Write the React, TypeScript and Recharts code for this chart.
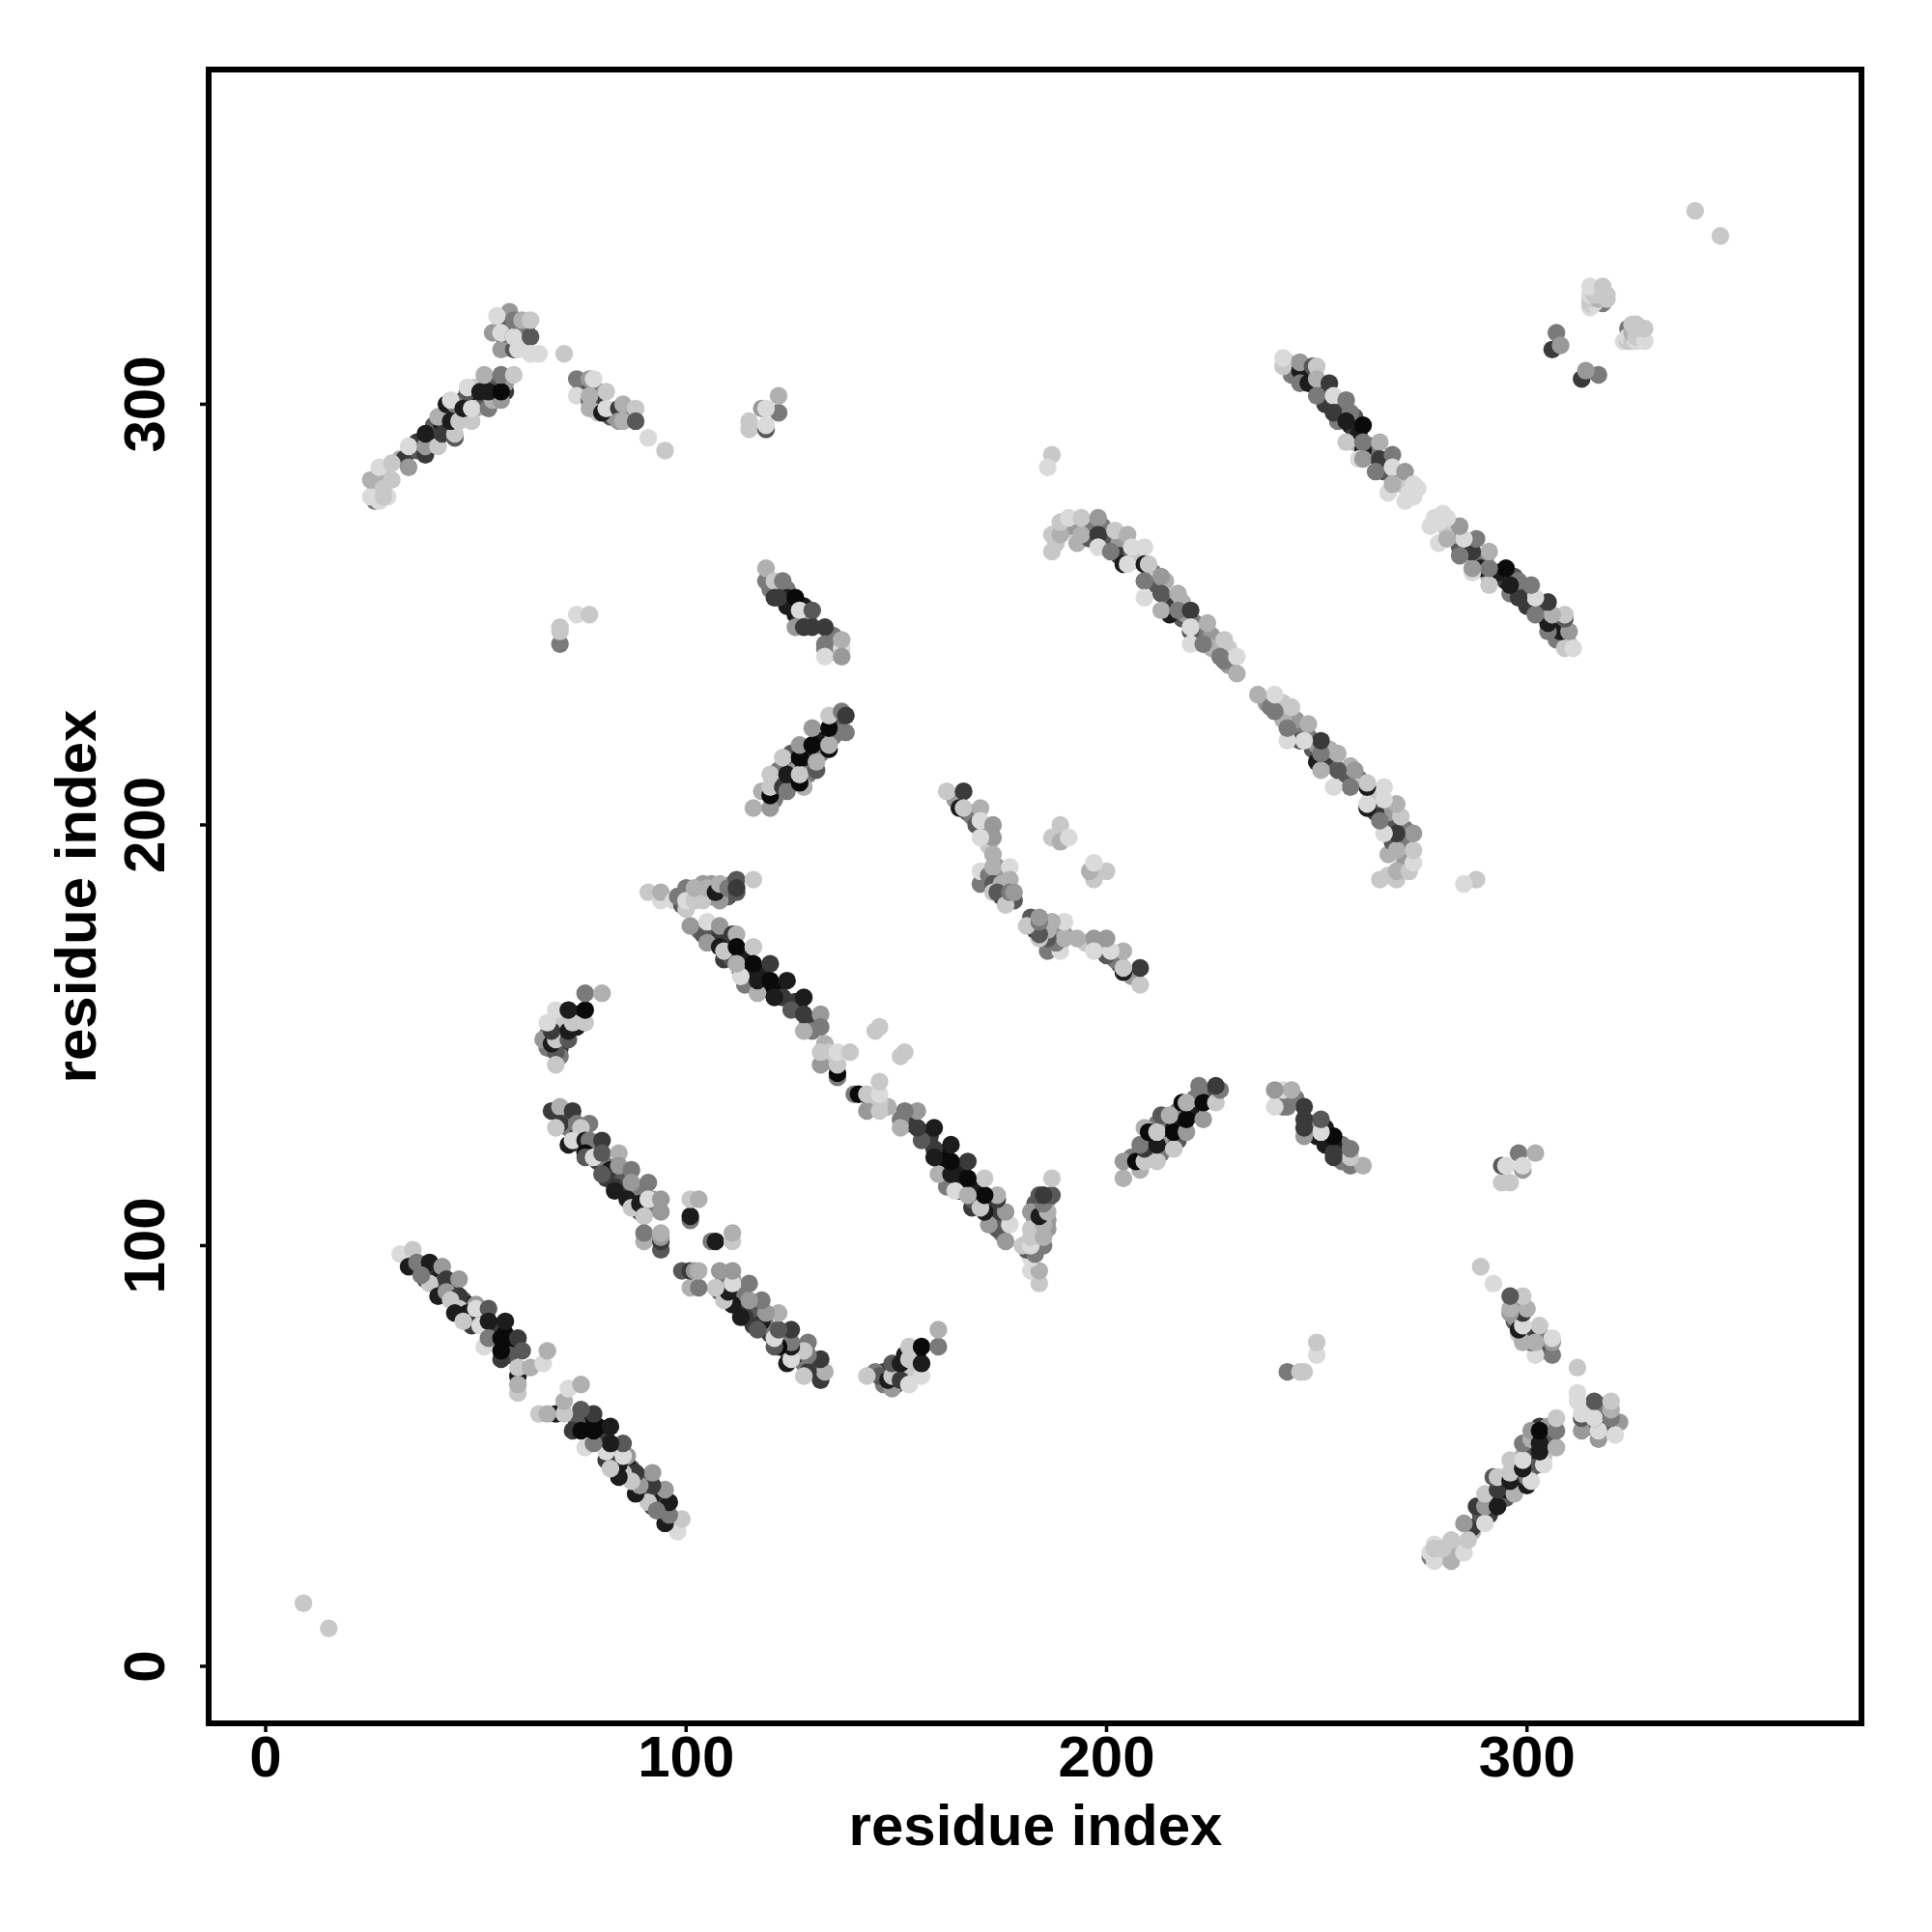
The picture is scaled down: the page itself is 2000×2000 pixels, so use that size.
import * as React from 'react';
import {Label, ReferenceArea, Scatter, ScatterChart, XAxis, YAxis} from 'recharts';

// residue i, residue j, contact score (1 faint .. 9 strong), upper triangle only
const bandA = [
  [37,94,6],[38,94,8],[40,93,7],[41,92,8],[42,91,6],[44,90,8],[45,89,7],[47,87,6],[48,86,8],[49,85,7],[51,84,8],[52,83,7],[54,81,8],[55,80,8],[56,80,7],[57,79,9],[58,77,8],[59,76,9],[58,74,6],
  [32,98,1],[35,99,2],[34,95,8],[36,96,5],[39,96,8],[42,95,4],[38,92,7],[39,91,2],[37,93,5],[43,92,7],[46,92,4],
  [41,88,8],[43,89,4],[46,88,7],[44,87,2],[46,85,2],[45,84,8],[50,86,4],[48,84,8],[50,85,1],[53,85,6],
  [49,81,7],[51,81,1],[47,82,2],[53,82,8],[57,82,8],[52,76,1],[53,78,5],[56,78,9],[60,78,7],[56,73,7],[56,75,9],[61,75,6],
  [60,69,8],[60,71,2],[63,71,3],[66,72,1],[67,75,3],[60,65,2],[60,67,3],
];
const bandB = [
  [71,130,6],[72,128,5],[74,126,7],[75,124,6],[77,123,7],[78,123,6],[79,120,7],[81,119,5],[82,118,8],[81,116,7],[85,116,6],[85,113,7],[88,112,6],[88,113,5],[92,109,5],[92,111,4],[89,108,6],[91,110,5],
  [68,132,7],[70,133,3],[73,132,7],[70,129,7],[69,128,2],[74,129,5],[77,129,5],[75,128,2],[72,124,8],[73,125,1],[76,125,8],[77,125,5],[80,125,7],
  [76,122,9],[76,121,6],[78,121,1],[80,122,6],[84,122,3],[80,117,6],[84,119,4],[87,118,5],[83,114,7],[83,113,8],[87,115,4],[91,115,5],
  [86,111,8],[87,109,2],[89,110,8],[91,111,1],[94,111,4],[94,108,4],[90,107,2],[90,101,3],[90,103,5],[94,99,6],[94,101,7],[94,102,4],[94,103,3],
  [101,106,5],[101,107,8],[101,111,2],[103,111,3],
];
const bandC = [
  [103,175,5],[106,174,5],[107,173,7],[110,172,7],[109,168,7],[111,168,6],[114,168,8],[115,165,8],[114,162,5],[118,165,8],[119,161,8],[122,161,9],[118,162,9],[123,159,7],[126,158,7],[127,156,8],[130,153,6],[129,153,7],[130,151,5],[133,148,3],[134,144,6],[134,146,2],[135,145,2],
  [104,174,6],[105,172,4],[101,176,4],[105,177,1],[108,176,4],[111,174,7],[112,174,3],[108,171,8],[109,170,2],[112,171,9],[116,171,2],
  [113,165,8],[113,164,1],[112,167,3],[116,167,9],[120,167,7],[117,160,3],[117,163,8],[120,163,9],[124,163,8],[121,159,8],[125,156,6],[128,159,8],
  [128,151,3],[128,155,7],[132,155,4],[132,152,5],[136,140,5],[136,141,9],[132,143,4],[132,146,2],[136,143,2],[136,146,1],[139,146,2],
  [145,151,2],[146,152,2],
];
const clusterD = [
  [67,150,6],[67,147,5],[70,147,7],[70,151,8],[71,150,8],[71,153,4],[74,152,8],[74,155,8],[70,153,2],[70,145,5],
  [66,149,4],[69,146,6],[69,143,2],[68,148,8],[69,149,2],[68,151,7],[67,153,1],[72,149,6],[72,151,8],[73,153,2],[69,156,1],[72,156,8],[76,153,2],[76,156,9],[76,160,5],[80,160,3],
];
const clusterE = [
  [103,183,3],[106,183,5],[109,184,6],[110,183,6],[111,186,5],[106,186,4],[104,186,4],[101,183,2],
  [91,184,2],[94,182,1],[94,184,3],[97,182,1],[99,181,6],[98,183,5],[100,180,2],[100,185,5],[100,182,1],[102,182,2],[104,182,2],[102,185,3],[105,185,3],
  [108,182,4],[107,184,8],[108,186,3],[110,185,5],[112,184,6],[112,187,6],[112,185,7],[116,187,2],
];
const clusterF = [
  [121,206,5],[122,210,6],[125,211,7],[125,214,8],[126,213,4],[128,214,8],[129,217,8],[129,212,5],[132,217,5],[132,220,9],[133,220,8],[135,221,5],[136,224,6],[136,222,5],[125,217,6],
  [116,204,3],[120,204,4],[118,208,3],[120,207,9],[120,209,2],[123,209,7],[124,208,5],[122,213,5],[120,212,2],[124,212,8],[128,209,3],[127,210,9],[127,212,2],
  [123,216,2],[127,216,9],[131,213,6],[131,215,3],[127,219,4],[130,219,9],[134,218,9],[134,219,3],[130,223,4],[134,223,9],[138,222,5],[134,226,2],[137,227,5],[138,226,7],
];
const clusterG = [
  [120,256,5],[124,256,5],[124,254,8],[124,252,8],[128,252,8],[129,249,6],[128,249,4],[135,245,5],[135,243,5],[135,241,2],
  [119,258,5],[119,261,3],[121,258,2],[123,258,5],[121,254,7],[122,254,7],[126,254,9],[126,250,8],[127,251,1],[130,251,6],[126,247,4],[128,247,7],[130,247,7],[133,247,7],
  [133,242,5],[133,243,5],[137,242,1],[137,244,3],[133,240,1],[137,240,4],
];
const clusterH = [[70,243,5],[70,246,2],[70,247,2],[74,250,1],[77,250,2]];
const bandI = [
  [26,279,4],[26,281,3],[28,283,2],[29,278,1],[32,287,3],[33,287,7],[36,289,6],[36,291,7],[40,291,5],[40,293,8],[40,295,6],[42,295,8],[43,294,8],[44,298,5],[46,298,8],[47,301,6],[50,301,8],[50,299,3],[52,300,6],[54,303,8],[55,305,6],[50,304,2],[57,303,7],[57,305,4],[57,318,6],[58,322,4],[60,318,7],[62,318,5],[61,314,1],[57,315,6],
  [26,277,5],[25,278,1],[27,277,1],[28,278,2],[25,282,3],[27,282,3],[28,280,2],[30,282,2],[27,285,1],[30,286,2],[34,285,4],[34,290,1],
  [38,288,7],[38,290,4],[38,293,8],[41,290,2],[42,293,7],[41,297,3],[45,292,6],[45,293,2],[44,296,8],[46,296,2],[43,300,8],[45,300,5],[44,301,1],
  [49,296,2],[47,299,8],[49,299,1],[48,303,6],[48,304,1],[53,299,5],[54,301,3],[56,301,4],[51,303,8],[53,303,8],[56,303,9],[52,307,3],[56,307,5],[59,307,2],
  [54,317,4],[56,313,4],[56,317,1],[55,321,1],[59,313,6],[59,316,7],[59,316,1],[60,313,1],[59,320,5],[61,320,3],[63,316,6],[63,320,2],[63,312,1],[65,312,1],[71,312,2],
];
const bandJ = [
  [75,304,3],[76,304,6],[79,303,5],[79,300,7],[79,298,2],[82,297,6],[83,297,4],[86,298,4],[86,297,5],
  [74,306,5],[77,306,4],[78,306,1],[74,302,1],[77,301,6],[77,302,3],[81,303,2],[77,299,3],[80,298,8],[81,299,1],[84,299,7],[85,300,3],[88,299,2],[84,296,4],[85,296,3],[88,296,6],[91,292,1],[95,289,2],
];
const clusterK = [[122,298,5],[122,302,3],[118,299,4],[119,299,1],[115,294,2],[115,296,2],[119,294,6],[119,295,1]];
const bandL = [
  [164,206,4],[167,203,6],[168,202,5],[171,199,4],[172,195,2],[174,190,4],[175,189,5],[176,187,4],[175,183,7],[177,182,5],[174,188,4],[175,185,6],[176,185,7],[178,182,6],
  [162,208,2],[166,208,7],[165,204,8],[166,204,2],[170,204,3],[169,200,6],[170,201,1],[173,200,4],[173,197,4],[170,197,1],[173,193,3],
  [170,186,5],[170,189,1],[172,188,5],[173,190,3],[173,186,6],[175,186,3],[173,184,2],[174,184,6],[176,183,6],[176,181,2],[177,190,1],[177,187,3],[177,184,5],[178,184,4],
];
const clusterM = [[188,197,8],[187,197,2],[189,200,2],[189,196,3],[191,197,1]];
const bandN = [
  [188,267,2],[190,270,2],[192,271,4],[193,267,3],[195,271,4],[196,270,5],[196,268,6],[199,271,5],[200,268,6],[203,267,4],[203,264,7],[206,264,6],[207,263,3],[208,265,2],[211,260,5],[211,258,2],[212,257,6],[214,258,3],[215,254,2],[215,253,5],[216,252,7],[218,249,6],[218,253,3],[219,250,4],[221,248,5],[222,246,3],[222,245,5],[225,245,4],[225,242,3],[229,242,2],[229,238,4],[228,239,5],
  [187,288,2],[186,285,1],[187,265,2],[187,269,2],[189,269,3],[189,272,2],[191,273,1],[194,269,3],[194,273,2],[198,273,4],[198,269,7],[198,266,1],[202,270,2],[205,269,3],[201,265,5],
  [206,266,1],[209,266,1],[204,262,8],[205,262,1],[209,262,8],[210,262,2],[213,259,4],[209,258,5],[209,254,1],[213,255,6],[217,255,3],[215,250,8],[213,251,3],[217,251,5],[220,251,7],
  [220,246,6],[220,247,1],[224,248,3],[220,243,1],[223,243,5],[228,244,2],[227,240,5],[231,240,1],[231,236,3],
];
const bandO = [
  [243,310,3],[244,307,5],[247,307,6],[248,307,3],[251,304,5],[252,304,6],[252,300,7],[255,300,7],[256,299,6],[255,296,5],[258,295,8],[259,293,7],[259,291,3],[259,297,6],[260,293,8],[263,290,6],[263,288,7],[262,289,5],[266,286,5],[266,284,6],[269,283,3],[269,282,5],[270,281,2],[272,279,1],[273,278,1],
  [242,309,2],[242,311,1],[246,308,8],[246,310,4],[249,309,6],[250,309,2],[246,305,5],[248,305,8],[250,306,3],[253,305,7],[250,302,5],[254,302,1],[257,301,5],[254,298,7],[258,298,5],
  [257,296,8],[261,295,9],[257,291,2],[261,289,8],[261,291,5],[265,291,3],[260,287,1],[261,287,4],[265,287,7],[268,288,5],[264,284,5],[268,285,1],[271,284,4],[267,279,1],[268,281,3],
  [271,277,1],[273,281,1],[274,280,1],
];
const clusterP = [
  [306,313,7],[307,317,5],[308,314,4],[318,324,5],[315,323,1],[315,324,2],[316,324,1],[315,325,2],[317,325,3],[319,325,2],
  [315,326,1],[316,326,2],[317,326,2],[319,326,2],[315,328,1],[318,328,2],[318,326,2],
];
const isolated = [[9,15,2],[340,346,2]];

const allBands = [bandA, bandB, bandC, clusterD, clusterE, clusterF, clusterG, clusterH, bandI, bandJ, clusterK, bandL, clusterM, bandN, bandO, clusterP, isolated];
const axisTicks = [0, 100, 200, 300];
const greys = ['', '#dadada', '#c8c8c8', '#b0b0b0', '#999999', '#7a7a7a', '#585858', '#3a3a3a', '#1c1c1c', '#0a0a0a'];

// a contact map is symmetric, each contact shows on both sides of the diagonal
const upper = allBands.flat().map(([i, j, score]) => ({i, j, score}));
const lower = upper.map(({i, j, score}) => ({i: j, j: i, score}));
const contacts = [...upper, ...lower];

const font = {fontFamily: '"Liberation Sans"', fontWeight: 700, fontSize: 60, fill: '#000'};
const limits: [number, number] = [-13.56, 379.56];

const Dot = (props: any) => <circle cx={props.cx} cy={props.cy} r={9.2} fill={greys[props.payload.score]}/>;

const XTick = (props: any) => <text x={props.x} y={1839} textAnchor="middle" {...font}>{props.payload.value}</text>;
const YTick = (props: any) => (
    <text x={170} y={props.y} textAnchor="middle" transform={`rotate(-90 170 ${props.y})`} {...font}>{props.payload.value}</text>
);

export default function App() {
    return (
        <div style={{position: 'absolute', left: 0, top: 0, background: '#fff'}}>
            <ScatterChart width={2000} height={2000} margin={{top: 72, right: 73, bottom: 116, left: 116}}>
                <XAxis type="number" dataKey="i" domain={limits} ticks={axisTicks} height={100} axisLine={false}
                       tickSize={9} tickLine={{stroke: '#000', strokeWidth: 3.5}} tick={<XTick/>} interval={0}>
                    <Label content={() => <text x={1072} y={1910} textAnchor="middle" {...font}>residue index</text>}/>
                </XAxis>
                <YAxis type="number" dataKey="j" domain={limits} ticks={axisTicks} width={100} axisLine={false}
                       tickSize={9} tickLine={{stroke: '#000', strokeWidth: 3.5}} tick={<YTick/>} interval={0}>
                    <Label content={() => <text x={99} y={928} textAnchor="middle" transform="rotate(-90 99 928)" {...font}>residue index</text>}/>
                </YAxis>
                <Scatter data={contacts} shape={<Dot/>} isAnimationActive={false}/>
                <ReferenceArea x1={limits[0]} x2={limits[1]} y1={limits[0]} y2={limits[1]} fill="none" stroke="#000" strokeWidth={6} ifOverflow="visible"/>
            </ScatterChart>
        </div>
    );
}
